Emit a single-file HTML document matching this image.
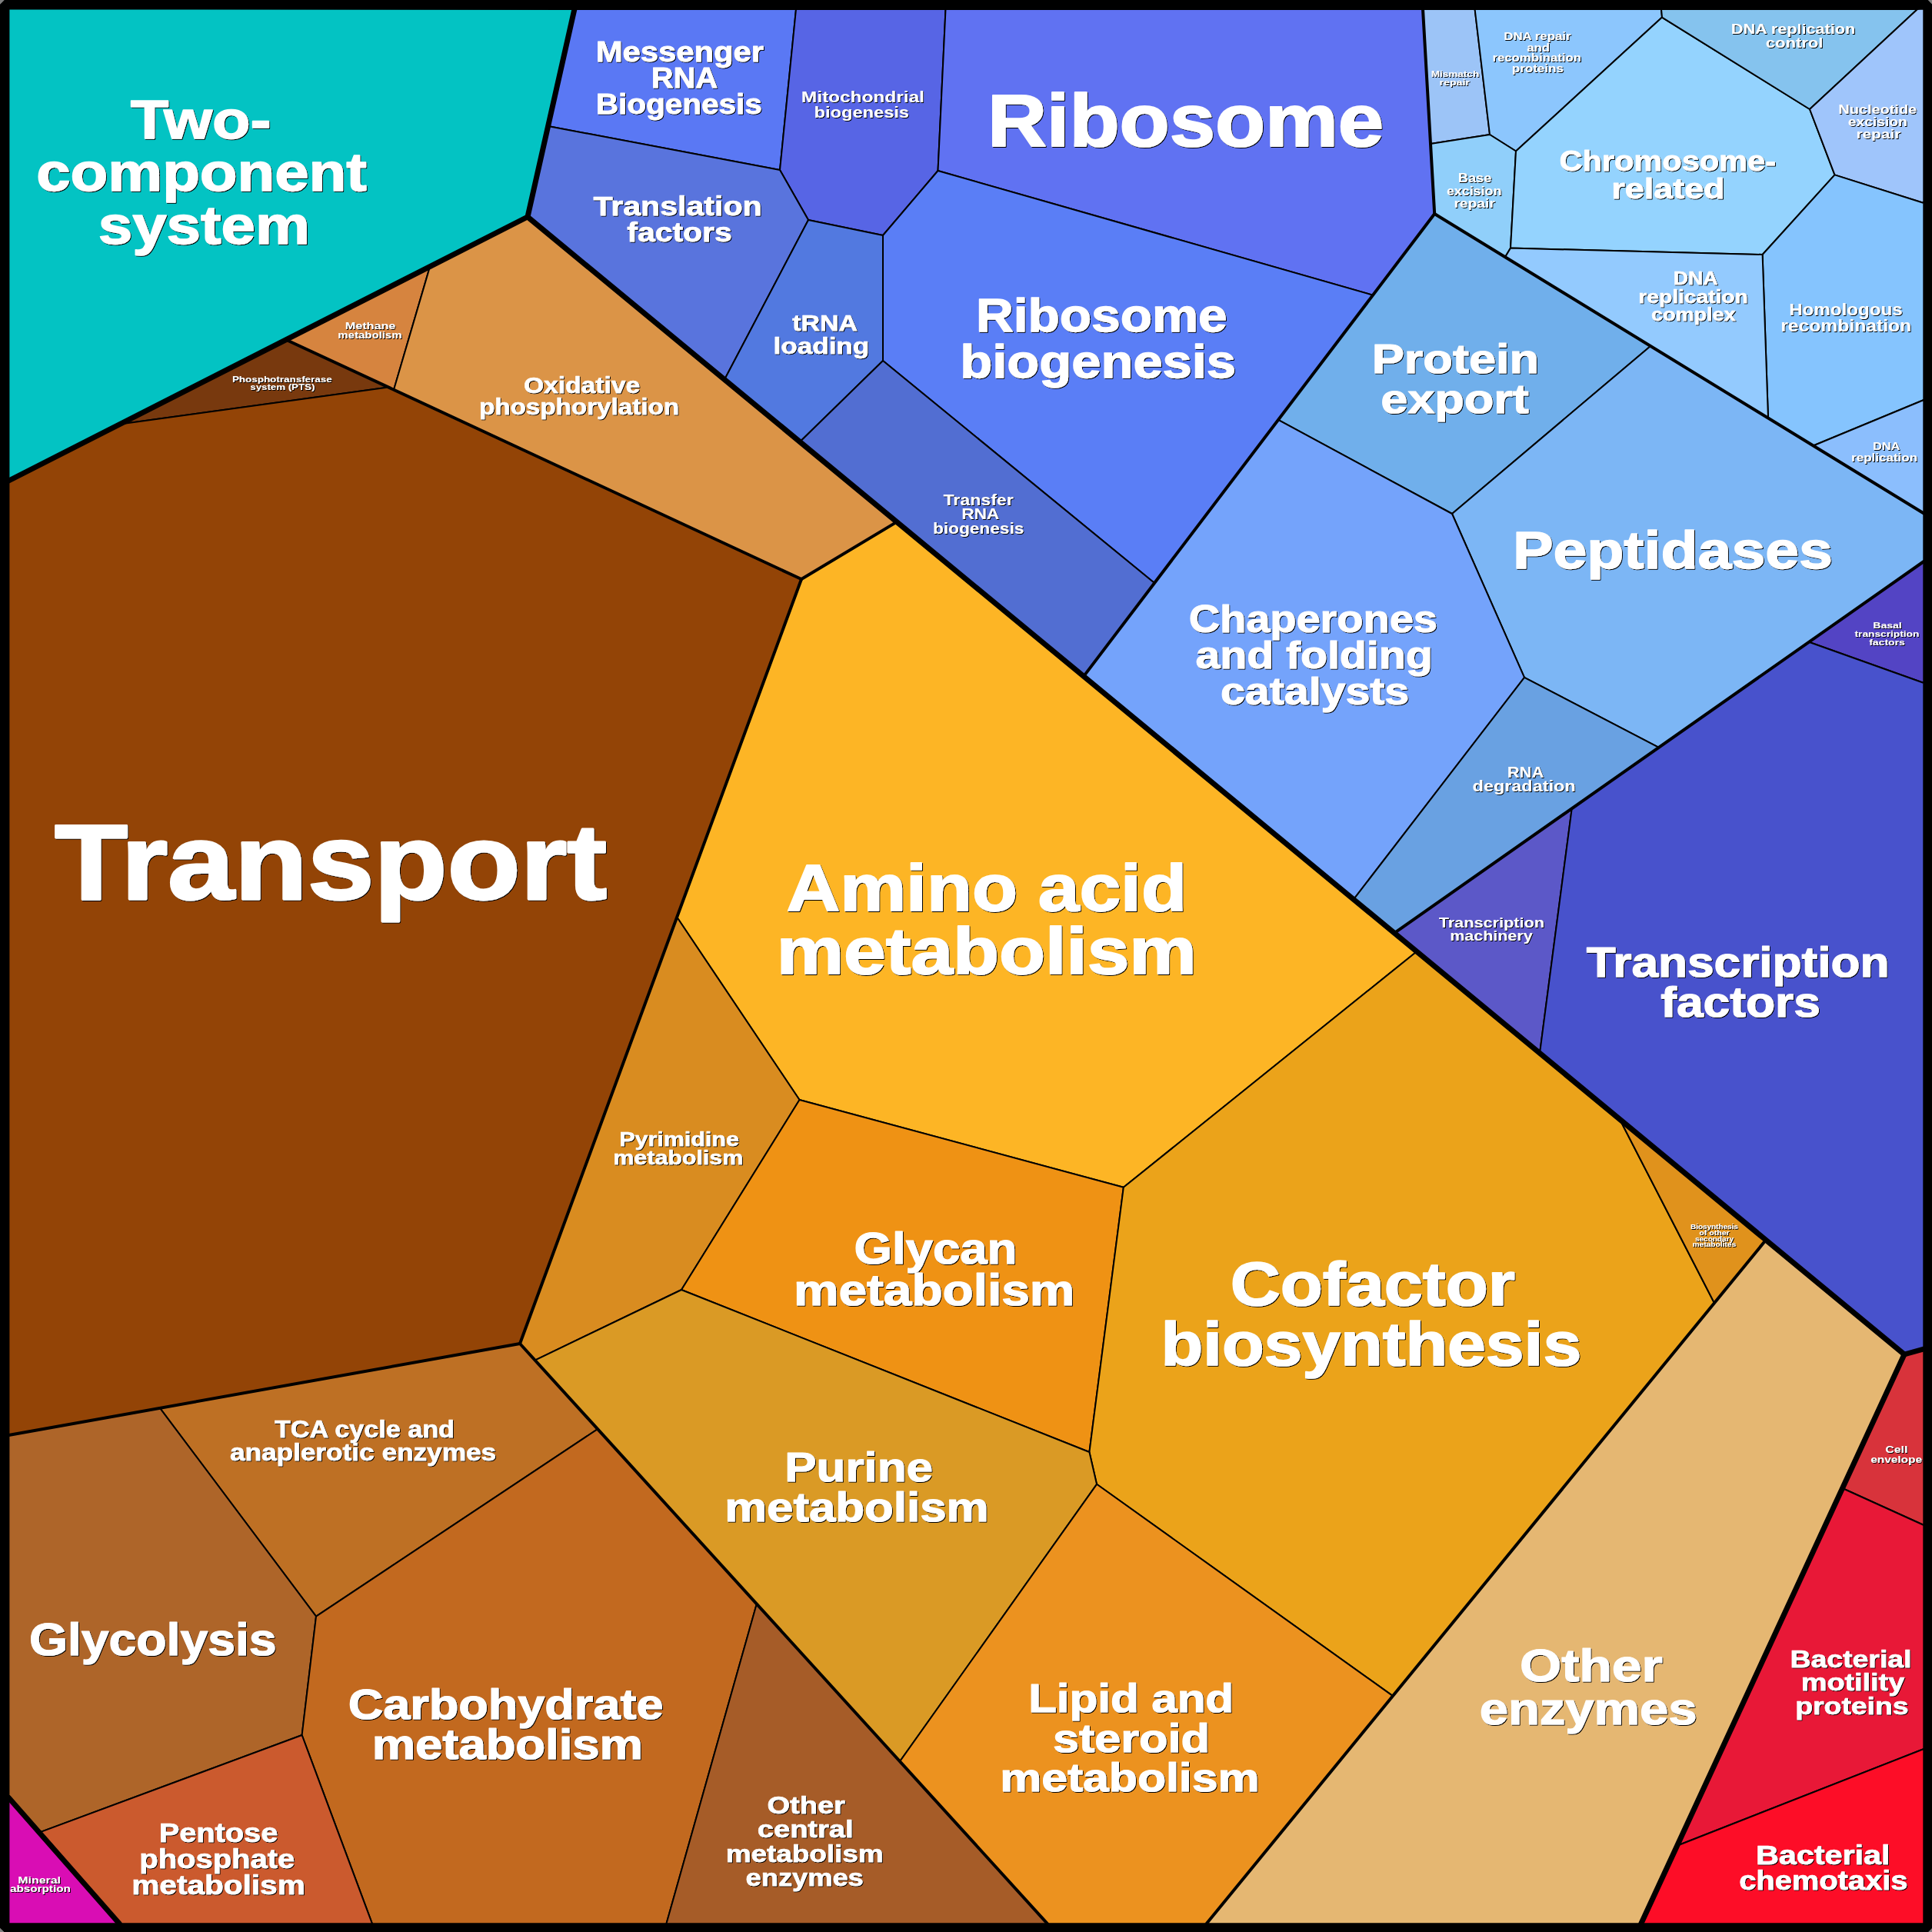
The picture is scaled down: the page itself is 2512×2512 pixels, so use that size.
<!DOCTYPE html>
<html><head><meta charset="utf-8"><title>Proteomap</title>
<style>html,body{margin:0;padding:0;background:#7f7f7f;}svg{display:block}text{font-family:"Liberation Sans", sans-serif;font-weight:bold;fill:#fff;stroke:#fff;stroke-linejoin:round;text-anchor:middle}</style></head><body>
<svg width="2512" height="2512" viewBox="0 0 2512 2512">
<defs><filter id="sh" x="0" y="0" width="2512" height="2512" filterUnits="userSpaceOnUse"><feOffset in="SourceAlpha" dx="1.1" dy="1.1" result="o"/><feMerge><feMergeNode in="o"/><feMergeNode in="SourceGraphic"/></feMerge></filter></defs>
<rect x="0" y="0" width="2512" height="2512" fill="#7f7f7f"/>
<rect x="6" y="6" width="2500.5" height="2500.5" fill="#000" stroke="#000" stroke-width="12" stroke-linejoin="bevel"/>
<g stroke="#000" stroke-width="2.0" stroke-linejoin="round">
<polygon fill="#03C3C3" points="11.4,11.4 746.9,12.0 686.0,282.0 11.4,625.0"/>
<polygon fill="#78390E" points="372.0,441.7 505.0,503.5 156.0,551.5"/>
<polygon fill="#D6843F" points="559.0,346.6 512.0,506.7 505.0,503.5 372.0,441.7"/>
<polygon fill="#DB9447" points="559.0,346.6 686.0,282.0 1166.0,678.6 1042.0,753.0 512.0,506.7"/>
<polygon fill="#934406" points="11.4,625.0 156.0,551.5 505.0,503.5 1042.0,753.0 676.0,1747.0 11.4,1866.0"/>
<polygon fill="#5A78F4" points="746.9,12.0 1035.0,12.0 1014.0,221.0 712.6,164.0"/>
<polygon fill="#5765E5" points="1035.0,12.0 1229.5,12.0 1219.5,222.0 1148.0,306.0 1051.0,286.0 1014.0,221.0"/>
<polygon fill="#6072F2" points="1229.5,12.0 1850.0,12.0 1865.2,278.0 1785.0,383.7 1219.5,222.0"/>
<polygon fill="#5974DD" points="712.6,164.0 1014.0,221.0 1051.0,286.0 942.0,493.5 686.0,282.0"/>
<polygon fill="#5279E0" points="1051.0,286.0 1148.0,306.0 1148.0,469.0 1040.0,574.5 942.0,493.5"/>
<polygon fill="#5A7EF6" points="1219.5,222.0 1785.0,383.7 1501.0,758.1 1148.0,469.0 1148.0,306.0"/>
<polygon fill="#526ED2" points="1148.0,469.0 1501.0,758.1 1409.0,879.4 1040.0,574.5"/>
<polygon fill="#9CC4F7" points="1850.0,12.0 1917.6,12.0 1937.0,175.0 1860.0,187.0"/>
<polygon fill="#8CC6FD" points="1917.6,12.0 2160.0,12.0 2161.0,22.6 1971.0,196.5 1937.0,175.0"/>
<polygon fill="#90CFFA" points="1860.0,187.0 1937.0,175.0 1971.0,196.5 1964.0,322.6 1957.0,334.2 1865.2,278.0"/>
<polygon fill="#94D3FE" points="1971.0,196.5 2161.0,22.6 2353.0,142.0 2385.5,227.4 2291.6,331.0 1964.0,322.6"/>
<polygon fill="#85C3EE" points="2160.0,12.0 2493.0,12.0 2353.0,142.0 2161.0,22.6"/>
<polygon fill="#9FC5FB" points="2493.0,12.0 2501.3,11.4 2501.3,264.0 2385.5,227.4 2353.0,142.0"/>
<polygon fill="#85C4FE" points="2385.5,227.4 2501.3,264.0 2501.3,520.0 2357.6,579.5 2299.0,543.6 2291.6,331.0"/>
<polygon fill="#93CAFE" points="1957.0,334.2 1964.0,322.6 2291.6,331.0 2299.0,543.6"/>
<polygon fill="#8BBEFD" points="2357.6,579.5 2501.3,520.0 2501.3,667.5"/>
<polygon fill="#70AFEB" points="1865.2,278.0 2146.0,449.9 1888.0,668.0 1662.0,545.9"/>
<polygon fill="#7CB6F5" points="2146.0,449.9 2501.3,667.5 2501.3,730.0 2156.8,971.9 1982.0,880.8 1888.0,668.0"/>
<polygon fill="#74A3FB" points="1662.0,545.9 1888.0,668.0 1982.0,880.8 1760.0,1169.4 1409.0,879.4"/>
<polygon fill="#69A1E2" points="1982.0,880.8 2156.8,971.9 1813.0,1213.2 1760.0,1169.4"/>
<polygon fill="#5344C4" points="2501.3,730.0 2501.3,888.0 2352.0,834.8"/>
<polygon fill="#5C58C8" points="1813.0,1213.2 2043.7,1051.3 2002.0,1369.4"/>
<polygon fill="#4852CC" points="2043.7,1051.3 2352.0,834.8 2501.3,888.0 2501.3,1754.0 2476.0,1761.0 2002.0,1369.4"/>
<polygon fill="#FDB525" points="1166.0,678.6 1842.0,1237.2 1460.8,1543.8 1039.5,1430.0 880.2,1192.5 1042.0,753.0"/>
<polygon fill="#D98C20" points="880.2,1192.5 1039.5,1430.0 886.0,1677.0 695.6,1768.6 676.0,1747.0"/>
<polygon fill="#EF9214" points="1039.5,1430.0 1460.8,1543.8 1416.4,1888.0 886.0,1677.0"/>
<polygon fill="#EBA31A" points="1842.0,1237.2 2106.0,1455.3 2229.0,1694.2 1811.0,2205.1 1426.0,1929.8 1416.4,1888.0 1460.8,1543.8"/>
<polygon fill="#E0921C" points="2106.0,1455.3 2296.0,1612.3 2229.0,1694.2"/>
<polygon fill="#DA9A25" points="695.6,1768.6 886.0,1677.0 1416.4,1888.0 1426.0,1929.8 1170.0,2290.2 983.8,2085.4 777.0,1858.1"/>
<polygon fill="#EC921F" points="1426.0,1929.8 1811.0,2205.1 1568.6,2501.3 1362.0,2501.3 1170.0,2290.2"/>
<polygon fill="#BE7024" points="208.0,1830.8 676.0,1747.0 777.0,1858.1 411.0,2101.6"/>
<polygon fill="#AE6529" points="11.4,1866.0 208.0,1830.8 411.0,2101.6 392.6,2256.0 51.0,2382.6 11.4,2337.5"/>
<polygon fill="#C2691F" points="411.0,2101.6 777.0,1858.1 983.8,2085.4 866.4,2501.3 484.0,2501.3 392.6,2256.0"/>
<polygon fill="#CB5A2E" points="51.0,2382.6 392.6,2256.0 484.0,2501.3 155.3,2501.3"/>
<polygon fill="#A65C28" points="983.8,2085.4 1362.0,2501.3 866.4,2501.3"/>
<polygon fill="#E5B772" points="2296.0,1612.3 2476.0,1761.0 2133.7,2501.3 1568.6,2501.3"/>
<polygon fill="#D8333B" points="2476.0,1761.0 2501.3,1754.0 2501.3,1983.0 2395.5,1935.0"/>
<polygon fill="#E81837" points="2395.5,1935.0 2501.3,1983.0 2501.3,2274.0 2180.7,2399.7"/>
<polygon fill="#FD0D27" points="2180.7,2399.7 2501.3,2274.0 2501.3,2501.3 2133.7,2501.3"/>
<polygon fill="#D90DB4" points="11.4,2337.5 155.3,2501.3 11.4,2501.3"/>
</g>
<g stroke="#000" stroke-width="4.0" stroke-linecap="round">
<line x1="372.0" y1="441.7" x2="1042.0" y2="753.0"/>
<line x1="1042.0" y1="753.0" x2="1166.0" y2="678.6"/>
<line x1="1042.0" y1="753.0" x2="676.0" y2="1747.0"/>
<line x1="676.0" y1="1747.0" x2="11.4" y2="1866.0"/>
<line x1="676.0" y1="1747.0" x2="1362.0" y2="2501.3"/>
<line x1="2296.0" y1="1612.3" x2="1568.6" y2="2501.3"/>
<line x1="1850.0" y1="12.0" x2="1865.2" y2="278.0"/>
<line x1="1865.2" y1="278.0" x2="1409.0" y2="879.4"/>
<line x1="1865.2" y1="278.0" x2="2501.3" y2="667.5"/>
<line x1="2501.3" y1="730.0" x2="1813.0" y2="1213.2"/>
</g>
<g stroke="#000" stroke-width="7.0" stroke-linecap="round">
<line x1="746.9" y1="12.0" x2="686.0" y2="282.0"/>
<line x1="686.0" y1="282.0" x2="11.4" y2="625.0"/>
<line x1="686.0" y1="282.0" x2="2476.0" y2="1761.0"/>
<line x1="2476.0" y1="1761.0" x2="2133.7" y2="2501.3"/>
<line x1="2476.0" y1="1761.0" x2="2501.3" y2="1754.0"/>
<line x1="11.4" y1="2337.5" x2="155.3" y2="2501.3"/>
</g>
<path fill="#000" fill-rule="evenodd" d="M0,6 L6,0 L2506.5,0 L2512,6 L2512,2506.5 L2506.5,2512 L6,2512 L0,2506.5 Z M11.4,11.4 L11.4,2501.3 L2501.3,2501.3 L2501.3,11.4 Z"/>
<g filter="url(#sh)">
<text x="261.1" y="179.6" font-size="70.5" stroke-width="1.48" textLength="182.9" lengthAdjust="spacingAndGlyphs">Two-</text>
<text x="262.0" y="247.8" font-size="70.5" stroke-width="1.48" textLength="429.5" lengthAdjust="spacingAndGlyphs">component</text>
<text x="265.4" y="316.5" font-size="70.5" stroke-width="1.48" textLength="275.3" lengthAdjust="spacingAndGlyphs">system</text>
<text x="481.5" y="428.0" font-size="13.0" stroke-width="0.00" textLength="65.7" lengthAdjust="spacingAndGlyphs">Methane</text>
<text x="480.9" y="440.0" font-size="13.0" stroke-width="0.00" textLength="83.2" lengthAdjust="spacingAndGlyphs">metabolism</text>
<text x="366.8" y="497.0" font-size="11.7" stroke-width="0.00" textLength="129.8" lengthAdjust="spacingAndGlyphs">Phosphotransferase</text>
<text x="367.3" y="507.4" font-size="11.7" stroke-width="0.00" textLength="84.0" lengthAdjust="spacingAndGlyphs">system (PTS)</text>
<text x="756.5" y="510.9" font-size="29.1" stroke-width="0.61" textLength="151.2" lengthAdjust="spacingAndGlyphs">Oxidative</text>
<text x="753.0" y="538.5" font-size="29.1" stroke-width="0.61" textLength="260.1" lengthAdjust="spacingAndGlyphs">phosphorylation</text>
<text x="883.8" y="79.6" font-size="36.5" stroke-width="0.77" textLength="218.3" lengthAdjust="spacingAndGlyphs">Messenger</text>
<text x="889.8" y="114.0" font-size="36.5" stroke-width="0.77" textLength="86.3" lengthAdjust="spacingAndGlyphs">RNA</text>
<text x="882.8" y="147.8" font-size="36.5" stroke-width="0.77" textLength="216.2" lengthAdjust="spacingAndGlyphs">Biogenesis</text>
<text x="1121.8" y="132.6" font-size="21.0" stroke-width="0.00" textLength="160.0" lengthAdjust="spacingAndGlyphs">Mitochondrial</text>
<text x="1120.3" y="153.0" font-size="21.0" stroke-width="0.00" textLength="123.4" lengthAdjust="spacingAndGlyphs">biogenesis</text>
<text x="1541.5" y="190.0" font-size="95.8" stroke-width="2.02" textLength="515.2" lengthAdjust="spacingAndGlyphs">Ribosome</text>
<text x="881.0" y="280.4" font-size="35.8" stroke-width="0.75" textLength="219.2" lengthAdjust="spacingAndGlyphs">Translation</text>
<text x="883.5" y="314.0" font-size="35.8" stroke-width="0.75" textLength="136.4" lengthAdjust="spacingAndGlyphs">factors</text>
<text x="1072.6" y="430.4" font-size="30.1" stroke-width="0.63" textLength="84.5" lengthAdjust="spacingAndGlyphs">tRNA</text>
<text x="1067.9" y="459.6" font-size="30.1" stroke-width="0.63" textLength="124.6" lengthAdjust="spacingAndGlyphs">loading</text>
<text x="1432.3" y="431.3" font-size="60.7" stroke-width="1.28" textLength="326.6" lengthAdjust="spacingAndGlyphs">Ribosome</text>
<text x="1427.7" y="491.3" font-size="60.7" stroke-width="1.28" textLength="358.7" lengthAdjust="spacingAndGlyphs">biogenesis</text>
<text x="1272.1" y="656.5" font-size="20.1" stroke-width="0.00" textLength="91.3" lengthAdjust="spacingAndGlyphs">Transfer</text>
<text x="1274.7" y="675.2" font-size="20.1" stroke-width="0.00" textLength="49.1" lengthAdjust="spacingAndGlyphs">RNA</text>
<text x="1272.1" y="694.3" font-size="20.1" stroke-width="0.00" textLength="118.4" lengthAdjust="spacingAndGlyphs">biogenesis</text>
<text x="1892.0" y="100.0" font-size="11.6" stroke-width="0.00" textLength="62.3" lengthAdjust="spacingAndGlyphs">Mismatch</text>
<text x="1891.2" y="110.9" font-size="11.6" stroke-width="0.00" textLength="39.4" lengthAdjust="spacingAndGlyphs">repair</text>
<text x="1998.9" y="52.2" font-size="14.4" stroke-width="0.00" textLength="87.1" lengthAdjust="spacingAndGlyphs">DNA repair</text>
<text x="2000.1" y="66.5" font-size="14.4" stroke-width="0.00" textLength="29.9" lengthAdjust="spacingAndGlyphs">and</text>
<text x="1998.2" y="80.4" font-size="14.4" stroke-width="0.00" textLength="115.5" lengthAdjust="spacingAndGlyphs">recombination</text>
<text x="1999.3" y="94.3" font-size="14.4" stroke-width="0.00" textLength="67.1" lengthAdjust="spacingAndGlyphs">proteins</text>
<text x="1917.6" y="237.0" font-size="15.9" stroke-width="0.00" textLength="43.6" lengthAdjust="spacingAndGlyphs">Base</text>
<text x="1916.6" y="253.5" font-size="15.9" stroke-width="0.00" textLength="71.4" lengthAdjust="spacingAndGlyphs">excision</text>
<text x="1917.1" y="269.6" font-size="15.9" stroke-width="0.00" textLength="53.4" lengthAdjust="spacingAndGlyphs">repair</text>
<text x="2168.2" y="221.7" font-size="37.3" stroke-width="0.79" textLength="281.6" lengthAdjust="spacingAndGlyphs">Chromosome-</text>
<text x="2168.9" y="257.8" font-size="37.3" stroke-width="0.79" textLength="147.4" lengthAdjust="spacingAndGlyphs">related</text>
<text x="2331.5" y="44.3" font-size="18.7" stroke-width="0.00" textLength="161.5" lengthAdjust="spacingAndGlyphs">DNA replication</text>
<text x="2333.1" y="62.2" font-size="18.7" stroke-width="0.00" textLength="74.7" lengthAdjust="spacingAndGlyphs">control</text>
<text x="2441.2" y="147.8" font-size="17.2" stroke-width="0.00" textLength="101.9" lengthAdjust="spacingAndGlyphs">Nucleotide</text>
<text x="2441.3" y="164.3" font-size="17.2" stroke-width="0.00" textLength="77.0" lengthAdjust="spacingAndGlyphs">excision</text>
<text x="2442.4" y="180.4" font-size="17.2" stroke-width="0.00" textLength="58.0" lengthAdjust="spacingAndGlyphs">repair</text>
<text x="2204.7" y="370.4" font-size="23.9" stroke-width="0.50" textLength="57.7" lengthAdjust="spacingAndGlyphs">DNA</text>
<text x="2201.5" y="394.3" font-size="23.9" stroke-width="0.50" textLength="142.3" lengthAdjust="spacingAndGlyphs">replication</text>
<text x="2201.8" y="417.4" font-size="23.9" stroke-width="0.50" textLength="109.6" lengthAdjust="spacingAndGlyphs">complex</text>
<text x="2399.9" y="410.0" font-size="21.5" stroke-width="0.00" textLength="147.4" lengthAdjust="spacingAndGlyphs">Homologous</text>
<text x="2400.2" y="431.3" font-size="21.5" stroke-width="0.00" textLength="170.0" lengthAdjust="spacingAndGlyphs">recombination</text>
<text x="2452.6" y="584.8" font-size="14.4" stroke-width="0.00" textLength="35.4" lengthAdjust="spacingAndGlyphs">DNA</text>
<text x="2450.1" y="600.0" font-size="14.4" stroke-width="0.00" textLength="86.1" lengthAdjust="spacingAndGlyphs">replication</text>
<text x="1892.4" y="484.8" font-size="53.5" stroke-width="1.13" textLength="217.3" lengthAdjust="spacingAndGlyphs">Protein</text>
<text x="1891.5" y="537.0" font-size="53.5" stroke-width="1.13" textLength="192.7" lengthAdjust="spacingAndGlyphs">export</text>
<text x="2174.9" y="739.0" font-size="68.8" stroke-width="1.45" textLength="416.0" lengthAdjust="spacingAndGlyphs">Peptidases</text>
<text x="2454.0" y="817.4" font-size="11.8" stroke-width="0.00" textLength="37.5" lengthAdjust="spacingAndGlyphs">Basal</text>
<text x="2453.4" y="828.3" font-size="11.8" stroke-width="0.00" textLength="83.8" lengthAdjust="spacingAndGlyphs">transcription</text>
<text x="2453.5" y="839.0" font-size="11.8" stroke-width="0.00" textLength="46.7" lengthAdjust="spacingAndGlyphs">factors</text>
<text x="1707.3" y="821.5" font-size="49.6" stroke-width="1.05" textLength="323.3" lengthAdjust="spacingAndGlyphs">Chaperones</text>
<text x="1708.5" y="869.0" font-size="49.6" stroke-width="1.05" textLength="308.2" lengthAdjust="spacingAndGlyphs">and folding</text>
<text x="1709.6" y="916.4" font-size="49.6" stroke-width="1.05" textLength="245.2" lengthAdjust="spacingAndGlyphs">catalysts</text>
<text x="1983.5" y="1011.2" font-size="19.9" stroke-width="0.00" textLength="47.5" lengthAdjust="spacingAndGlyphs">RNA</text>
<text x="1981.6" y="1028.6" font-size="19.9" stroke-width="0.00" textLength="134.0" lengthAdjust="spacingAndGlyphs">degradation</text>
<text x="1939.3" y="1206.4" font-size="19.0" stroke-width="0.00" textLength="137.3" lengthAdjust="spacingAndGlyphs">Transcription</text>
<text x="1938.9" y="1223.0" font-size="19.0" stroke-width="0.00" textLength="107.5" lengthAdjust="spacingAndGlyphs">machinery</text>
<text x="2259.6" y="1269.5" font-size="54.8" stroke-width="1.15" textLength="393.5" lengthAdjust="spacingAndGlyphs">Transcription</text>
<text x="2263.0" y="1321.7" font-size="54.8" stroke-width="1.15" textLength="207.7" lengthAdjust="spacingAndGlyphs">factors</text>
<text x="2228.9" y="1597.7" font-size="8.6" stroke-width="0.00" textLength="61.8" lengthAdjust="spacingAndGlyphs">Biosynthesis</text>
<text x="2229.0" y="1605.6" font-size="8.6" stroke-width="0.00" textLength="39.4" lengthAdjust="spacingAndGlyphs">of other</text>
<text x="2229.0" y="1613.8" font-size="8.6" stroke-width="0.00" textLength="50.1" lengthAdjust="spacingAndGlyphs">secondary</text>
<text x="2228.8" y="1621.2" font-size="8.6" stroke-width="0.00" textLength="56.6" lengthAdjust="spacingAndGlyphs">metabolites</text>
<text x="1282.7" y="1183.8" font-size="85.1" stroke-width="1.79" textLength="520.4" lengthAdjust="spacingAndGlyphs">Amino acid</text>
<text x="1282.7" y="1266.4" font-size="85.1" stroke-width="1.79" textLength="546.0" lengthAdjust="spacingAndGlyphs">metabolism</text>
<text x="883.0" y="1490.3" font-size="26.3" stroke-width="0.55" textLength="155.7" lengthAdjust="spacingAndGlyphs">Pyrimidine</text>
<text x="881.8" y="1514.3" font-size="26.3" stroke-width="0.55" textLength="168.9" lengthAdjust="spacingAndGlyphs">metabolism</text>
<text x="1216.5" y="1642.5" font-size="56.6" stroke-width="1.19" textLength="211.9" lengthAdjust="spacingAndGlyphs">Glycan</text>
<text x="1214.6" y="1696.5" font-size="56.6" stroke-width="1.19" textLength="365.2" lengthAdjust="spacingAndGlyphs">metabolism</text>
<text x="1784.8" y="1696.5" font-size="79.4" stroke-width="1.67" textLength="370.2" lengthAdjust="spacingAndGlyphs">Cofactor</text>
<text x="1782.8" y="1775.0" font-size="79.4" stroke-width="1.67" textLength="546.8" lengthAdjust="spacingAndGlyphs">biosynthesis</text>
<text x="430.0" y="1168.6" font-size="138.3" stroke-width="2.91" textLength="718.1" lengthAdjust="spacingAndGlyphs">Transport</text>
<text x="473.9" y="1869.0" font-size="30.8" stroke-width="0.65" textLength="234.0" lengthAdjust="spacingAndGlyphs">TCA cycle and</text>
<text x="472.0" y="1899.0" font-size="30.8" stroke-width="0.65" textLength="346.2" lengthAdjust="spacingAndGlyphs">anaplerotic enzymes</text>
<text x="198.8" y="2152.4" font-size="59.1" stroke-width="1.24" textLength="321.6" lengthAdjust="spacingAndGlyphs">Glycolysis</text>
<text x="657.6" y="2235.0" font-size="54.8" stroke-width="1.15" textLength="409.8" lengthAdjust="spacingAndGlyphs">Carbohydrate</text>
<text x="659.8" y="2287.2" font-size="54.8" stroke-width="1.15" textLength="352.3" lengthAdjust="spacingAndGlyphs">metabolism</text>
<text x="284.0" y="2394.6" font-size="34.8" stroke-width="0.73" textLength="154.7" lengthAdjust="spacingAndGlyphs">Pentose</text>
<text x="282.2" y="2428.5" font-size="34.8" stroke-width="0.73" textLength="201.9" lengthAdjust="spacingAndGlyphs">phosphate</text>
<text x="284.0" y="2463.3" font-size="34.8" stroke-width="0.73" textLength="225.5" lengthAdjust="spacingAndGlyphs">metabolism</text>
<text x="51.2" y="2449.0" font-size="13.0" stroke-width="0.00" textLength="55.7" lengthAdjust="spacingAndGlyphs">Mineral</text>
<text x="52.4" y="2460.3" font-size="13.0" stroke-width="0.00" textLength="78.7" lengthAdjust="spacingAndGlyphs">absorption</text>
<text x="1116.6" y="1926.3" font-size="53.3" stroke-width="1.12" textLength="192.5" lengthAdjust="spacingAndGlyphs">Purine</text>
<text x="1113.8" y="1977.7" font-size="53.3" stroke-width="1.12" textLength="343.3" lengthAdjust="spacingAndGlyphs">metabolism</text>
<text x="1470.6" y="2226.3" font-size="52.1" stroke-width="1.10" textLength="266.9" lengthAdjust="spacingAndGlyphs">Lipid and</text>
<text x="1470.9" y="2277.7" font-size="52.1" stroke-width="1.10" textLength="203.9" lengthAdjust="spacingAndGlyphs">steroid</text>
<text x="1468.8" y="2329.4" font-size="52.1" stroke-width="1.10" textLength="337.1" lengthAdjust="spacingAndGlyphs">metabolism</text>
<text x="1048.2" y="2357.7" font-size="31.9" stroke-width="0.67" textLength="101.3" lengthAdjust="spacingAndGlyphs">Other</text>
<text x="1047.2" y="2389.4" font-size="31.9" stroke-width="0.67" textLength="124.7" lengthAdjust="spacingAndGlyphs">central</text>
<text x="1046.2" y="2420.7" font-size="31.9" stroke-width="0.67" textLength="204.9" lengthAdjust="spacingAndGlyphs">metabolism</text>
<text x="1046.2" y="2452.4" font-size="31.9" stroke-width="0.67" textLength="153.2" lengthAdjust="spacingAndGlyphs">enzymes</text>
<text x="2068.8" y="2186.3" font-size="59.0" stroke-width="1.24" textLength="185.5" lengthAdjust="spacingAndGlyphs">Other</text>
<text x="2065.1" y="2242.4" font-size="59.0" stroke-width="1.24" textLength="282.9" lengthAdjust="spacingAndGlyphs">enzymes</text>
<text x="2465.8" y="1889.4" font-size="13.3" stroke-width="0.00" textLength="29.0" lengthAdjust="spacingAndGlyphs">Cell</text>
<text x="2465.6" y="1901.6" font-size="13.3" stroke-width="0.00" textLength="66.9" lengthAdjust="spacingAndGlyphs">envelope</text>
<text x="2406.5" y="2167.7" font-size="31.8" stroke-width="0.67" textLength="158.1" lengthAdjust="spacingAndGlyphs">Bacterial</text>
<text x="2409.0" y="2198.0" font-size="31.8" stroke-width="0.67" textLength="134.5" lengthAdjust="spacingAndGlyphs">motility</text>
<text x="2407.9" y="2228.5" font-size="31.8" stroke-width="0.67" textLength="147.2" lengthAdjust="spacingAndGlyphs">proteins</text>
<text x="2370.2" y="2424.2" font-size="35.0" stroke-width="0.74" textLength="174.4" lengthAdjust="spacingAndGlyphs">Bacterial</text>
<text x="2370.8" y="2456.8" font-size="35.0" stroke-width="0.74" textLength="219.3" lengthAdjust="spacingAndGlyphs">chemotaxis</text>
</g>
</svg></body></html>
